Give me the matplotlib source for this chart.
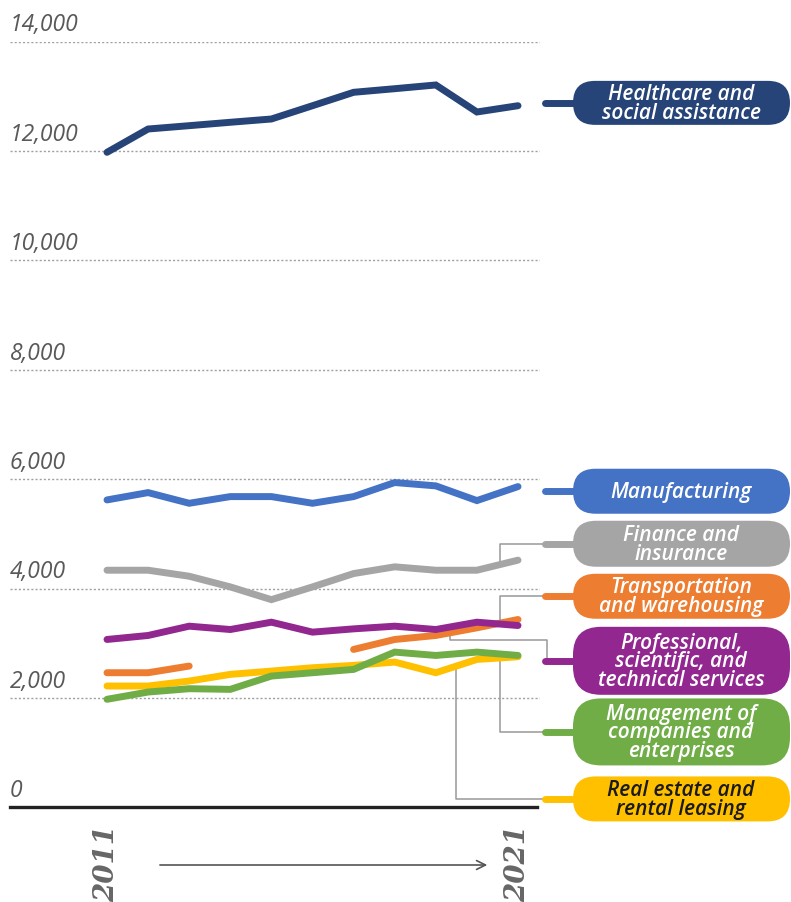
import numpy as np
import matplotlib
matplotlib.use("Agg")
import matplotlib.pyplot as plt
from matplotlib.patches import FancyBboxPatch
from matplotlib import transforms

# data
years = list(range(2011, 2022))
healthcare = [11976, 12402, 12463, 12525, 12585, 12828, 13073, 13139, 13207, 12713, 12828]
manufacturing = [5621, 5755, 5560, 5682, 5682, 5560, 5682, 5939, 5878, 5609, 5865]
finance = [4336, 4336, 4226, 4031, 3798, 4031, 4275, 4398, 4336, 4336, 4520]
transportation = [2462, 2462, 2584, np.nan, np.nan, np.nan, 2888, 3070, 3143, 3283, 3435]
professional = [3070, 3143, 3313, 3252, 3386, 3204, 3264, 3313, 3252, 3386, 3325]
management = [1976, 2109, 2170, 2158, 2401, 2462, 2523, 2839, 2778, 2839, 2778]
real_estate = [2219, 2219, 2310, 2432, 2492, 2553, 2596, 2657, 2462, 2705, 2754]

y_ticks = [0, 2000, 4000, 6000, 8000, 10000, 12000, 14000]

# series: data, color, label, label text colour, label centre (data units), box height (px)
series = [
    ("healthcare", healthcare, "#264478", "Healthcare and\nsocial assistance", "white", 12880, 44),
    ("manufacturing", manufacturing, "#4472C4", "Manufacturing", "white", 5780, 45),
    ("finance", finance, "#A5A5A5", "Finance and\ninsurance", "white", 4820, 46),
    ("real_estate", real_estate, "#FFC000", "Real estate and\nrental leasing", "#1a1a1a", 155, 45),
    ("transportation", transportation, "#ED7D31", "Transportation\nand warehousing", "white", 3860, 45),
    ("management", management, "#70AD47", "Management of\ncompanies and\nenterprises", "white", 1380, 67),
    ("professional", professional, "#92278F", "Professional,\nscientific, and\ntechnical services", "white", 2680, 68),
]

fig = plt.figure(figsize=(7.91, 9.03), dpi=100)
W, H = 791, 903
ax = fig.add_axes([10 / W, (H - 808.4) / H, 530 / W, 765.8 / H])
ax.set_xlim(2008.64, 2021.535)
ax.set_ylim(0, 14000)
ax.axis("off")

ov = fig.add_axes([0, 0, 1, 1])
ov.set_xlim(0, W)
ov.set_ylim(H, 0)
ov.axis("off")
ov.patch.set_alpha(0)

# grid + baseline
for v in y_ticks[1:]:
    ax.axhline(v, color="#a0a0a0", lw=1.0, ls=(0, (1.5, 1.5)), zorder=1)
ax.axhline(0, xmax=0.995, color="#222222", lw=2.4, zorder=2, clip_on=False)
for v in y_ticks:
    ax.annotate(f"{v:,}", xy=(0, v), xycoords=("axes fraction", "data"),
                xytext=(0, 8), textcoords="offset points", va="baseline", ha="left",
                fontsize=16.5, style="italic", color="#595959", family="Open Sans")

# leaders
x_mid, x_left, x_left2, x_stub = 2020.56, 2019.35, 2019.49, 2021.71
lab = {s[0]: s[5] for s in series}
leaders = {
    "finance": ([x_mid, x_mid, x_stub], [np.interp(x_mid, years, finance), lab["finance"], lab["finance"]]),
    "transportation": ([x_mid, x_mid, x_stub], [np.interp(x_mid, years, transportation), lab["transportation"], lab["transportation"]]),
    "professional": ([x_left, x_left, x_stub, x_stub], [np.interp(x_left, years, professional), 3060, 3060, lab["professional"]]),
    "management": ([x_mid, x_mid, x_stub], [np.interp(x_mid, years, management), lab["management"], lab["management"]]),
    "real_estate": ([x_left2, x_left2, x_stub], [np.interp(x_left2, years, real_estate), lab["real_estate"], lab["real_estate"]]),
}
for xs, ys in leaders.values():
    ax.plot(xs, ys, color="#999999", lw=1.1, zorder=3, clip_on=False)

# lines, stubs and label boxes
for key, vals, color, text, tcolor, ly, bh in series:
    ax.plot(years, vals, color=color, lw=5, solid_capstyle="round",
            solid_joinstyle="miter", zorder=4, clip_on=False)
    ax.plot([2021.66, 2022.4], [ly, ly], color=color, lw=5,
            solid_capstyle="round", zorder=4, clip_on=False)
    cy = H - ax.transData.transform((2021, ly))[1]
    r = min(bh / 2, 28)
    box = FancyBboxPatch((573, cy - bh / 2), 217, bh,
                         boxstyle=f"round,pad=0,rounding_size={r}",
                         fc=color, ec="none", zorder=5)
    ov.add_patch(box)
    ov.text(681, cy, text, ha="center", va="center", fontsize=15,
            family="Open Sans", weight="semibold", style="italic", color=tcolor,
            linespacing=0.85, zorder=6)

# year labels and arrow
tr = transforms.blended_transform_factory(ax.transData, ov.transData)
for yr in (2011, 2021):
    ax.text(yr, 864, str(yr), transform=tr, rotation=90, ha="center", va="center",
            fontsize=20, family="DejaVu Serif", style="italic", weight="bold",
            color="#666666")
ov.annotate("", xy=(2020.32, 866), xycoords=tr, xytext=(2012.22, 866), textcoords=tr,
            arrowprops=dict(arrowstyle="->", color="#555555", lw=1.2, mutation_scale=16))

fig.savefig("out.png", dpi=100)
